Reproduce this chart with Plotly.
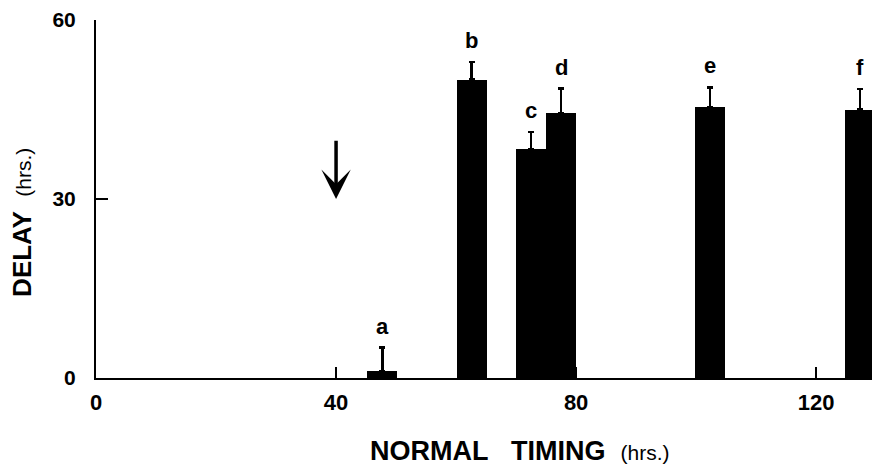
import plotly.graph_objects as go

# Data
labels = ["a", "b", "c", "d", "e", "f"]
timing = [47.7, 62.6, 72.5, 77.5, 102.3, 127.3]   # normal timing (hrs.)
delay = [1.2, 50.0, 38.3, 44.4, 45.4, 45.0]       # delay (hrs.)
err = [3.9, 3.0, 2.9, 4.1, 3.3, 3.4]              # upper error
x_ticks = [0, 40, 80, 120]
y_ticks = [0, 30, 60]
arrow_x = 40
arrow_tip, arrow_tail = 30, 40

FONT = "Liberation Sans"

fig = go.Figure()
fig.add_trace(go.Bar(
    x=timing, y=delay, width=5,
    marker=dict(color="black", line=dict(width=0)),
    error_y=dict(type="data", symmetric=False, array=err,
                 arrayminus=[0] * len(err), color="black",
                 thickness=2.5, width=3),
    showlegend=False,
    cliponaxis=False,
))

for lab, xv, yv, ev in zip(labels, timing, delay, err):
    fig.add_annotation(x=xv, y=yv + ev, text=lab, showarrow=False,
                       xanchor="center", yanchor="bottom", yshift=7,
                       font=dict(family=FONT, size=22, color="black", weight=700))

# downward arrow
fig.add_annotation(x=arrow_x, y=arrow_tip, ax=arrow_x, ay=arrow_tail,
                   xref="x", yref="y", axref="x", ayref="y",
                   showarrow=True, arrowhead=3, arrowwidth=3.5, arrowsize=1.4,
                   arrowcolor="black", text="")

# axis titles
fig.add_annotation(xref="paper", yref="paper", x=0.546, y=-0.205,
                   xanchor="center", yanchor="middle", showarrow=False,
                   text="<b>NORMAL\u00a0\u00a0\u00a0TIMING</b>\u00a0\u00a0<span style='font-size:21px'>(hrs.)</span>",
                   font=dict(family=FONT, size=27, color="black"))
fig.add_annotation(xref="paper", yref="paper", x=-0.0954, y=0.436,
                   xanchor="center", yanchor="middle", showarrow=False,
                   textangle=-90,
                   text="<b>DELAY</b>\u00a0\u00a0<span style='font-size:21px'>(hrs.)</span>",
                   font=dict(family=FONT, size=26, color="black"))

fig.update_xaxes(range=[0, 129.3], showline=True, linewidth=2, linecolor="black",
                 ticks="inside", ticklen=11, tickwidth=2, tickcolor="black",
                 tickvals=x_ticks, ticktext=[str(v) for v in x_ticks],
                 showgrid=False, zeroline=False, ticklabelstandoff=4,
                 automargin=False,
                 tickfont=dict(family=FONT, size=22, color="black", weight=700))
fig.update_yaxes(range=[0, 60], showline=True, linewidth=2, linecolor="black",
                 ticks="inside", ticklen=12, tickwidth=2, tickcolor="black",
                 tickvals=y_ticks, ticktext=[str(v) for v in y_ticks],
                 showgrid=False, zeroline=False, ticklabelstandoff=14,
                 automargin=False,
                 tickfont=dict(family=FONT, size=21, color="black", weight=700))

fig.update_layout(width=872, height=471,
                  margin=dict(l=96, r=0, t=20, b=93),
                  plot_bgcolor="white", paper_bgcolor="white",
                  bargap=0)

fig.write_html("out.html", config={"displayModeBar": False},
               post_script="document.body.style.margin='0';document.body.style.overflow='hidden';")
